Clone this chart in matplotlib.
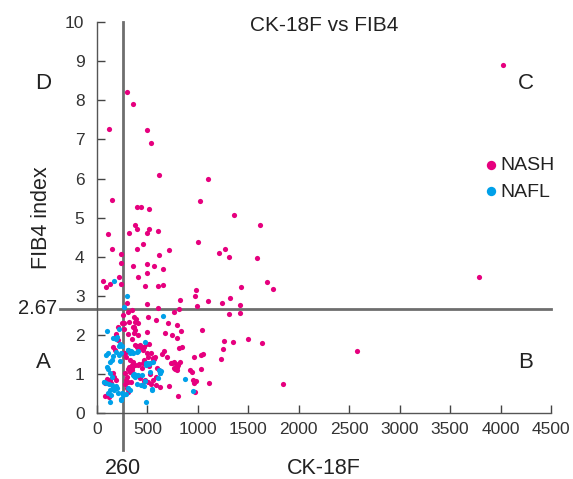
import matplotlib
matplotlib.use("Agg")
import matplotlib.pyplot as plt

plt.rcParams['font.family'] = ['Liberation Sans', 'DejaVu Sans']

# CK-18F (x) and FIB4 index (y)
nash_x = [4020, 300, 354, 116, 496, 535, 612, 1101, 145, 1025, 399, 438, 518, 1359, 1612,
          112, 322, 380, 395, 518, 500, 605, 1004, 145, 399, 457, 710, 1210, 1264, 1304,
          1587, 236, 236, 616, 359, 493, 562, 656, 493, 409, 217, 62, 91, 130, 239,
          478, 601, 652, 986, 1428, 1685, 1743, 3783, 967, 822, 493, 993, 1098, 1239, 1319,
          1420, 601, 293, 808, 1304, 1417, 768, 308, 348, 261, 370, 385, 372, 405, 507,
          580, 315, 703, 790, 272, 264, 1040, 360, 375, 496, 678, 837, 746, 790, 188,
          1496, 1257, 1348, 1638, 2576, 1246, 1228, 1033, 1050, 960, 1029, 920, 946, 1848,
          515, 812, 839, 667, 647, 558, 575, 690, 746, 822, 806, 766, 789, 591, 614,
          525, 954, 977, 964, 1109, 581, 624, 713, 971, 806,
          211, 244, 370, 185, 310, 370, 403, 350, 251, 277, 284, 393, 426, 442, 162,
          178, 360, 376, 416, 310, 343, 327, 442, 492, 515, 129, 139, 310, 337, 426,
          475, 508, 79, 99, 304, 122, 82, 300, 276, 296, 286, 280, 467, 559, 582,
          533, 155, 171, 191, 204, 326, 355, 345, 316, 342, 408, 451, 467, 375, 401,
          421, 451, 467, 484, 500, 533, 510, 553, 566, 737, 763, 780, 793, 773, 796]
nash_y = [8.90, 8.22, 7.91, 7.27, 7.25, 6.90, 6.10, 6.00, 5.45, 5.42, 5.26, 5.28, 5.23, 5.07, 4.81,
          4.59, 4.61, 4.80, 4.71, 4.72, 4.60, 4.66, 4.37, 4.21, 4.21, 4.33, 4.17, 4.09, 4.19, 4.00,
          3.96, 4.07, 3.85, 4.04, 3.76, 3.81, 3.77, 3.68, 3.58, 3.48, 3.48, 3.39, 3.23, 3.30, 3.30,
          3.26, 3.26, 3.27, 3.14, 3.23, 3.35, 3.17, 3.48, 2.99, 2.89, 2.80, 2.75, 2.86, 2.82, 2.94,
          2.78, 2.69, 2.81, 2.67, 2.53, 2.56, 2.59, 2.59, 2.64, 2.50, 2.45, 2.40, 2.33, 2.30, 2.45,
          2.38, 2.33, 2.31, 2.25, 2.32, 2.16, 2.12, 2.20, 2.12, 2.08, 2.06, 2.11, 1.99, 1.93, 1.98,
          1.91, 1.84, 1.82, 1.80, 1.59, 1.64, 1.39, 1.49, 1.52, 1.44, 1.13, 1.11, 1.05, 0.75,
          1.77, 1.68, 1.70, 1.60, 1.52, 1.41, 1.43, 1.45, 1.29, 1.32, 1.24, 1.15, 1.19, 1.15, 1.11,
          1.00, 0.85, 0.83, 0.78, 0.77, 0.72, 0.66, 0.70, 0.55, 0.44,
          2.21, 2.30, 2.21, 2.03, 2.03, 2.06, 2.00, 1.89, 1.53, 1.53, 1.43, 1.70, 1.75, 1.69, 1.69,
          1.62, 1.29, 1.23, 1.26, 1.12, 1.15, 1.06, 1.15, 1.26, 1.21, 0.85, 0.78, 0.81, 0.81, 0.89,
          0.85, 0.81, 0.77, 0.87, 0.55, 0.42, 0.44, 0.64, 1.02, 0.93, 0.86, 0.76, 0.83, 0.85, 0.92,
          0.76, 1.02, 0.93, 0.86, 1.88, 1.36, 1.31, 1.23, 1.19, 1.10, 1.23, 1.29, 1.36, 1.75, 1.71,
          1.68, 1.61, 1.69, 1.78, 1.53, 1.53, 1.44, 1.40, 1.38, 1.29, 1.32, 1.25, 1.19, 1.14, 1.10]

nafl_x = [167, 301, 272, 659, 100, 220, 160, 185, 200, 221, 251, 230, 478, 402, 340,
          355, 86, 112, 162, 185, 304, 327, 125, 145, 230, 99, 106, 129, 152, 73,
          89, 119, 145, 162, 185, 198, 172, 129, 112, 139, 211, 261, 238, 284, 304,
          327, 399, 409, 370, 376, 442, 482, 482, 525, 125, 482, 541, 525, 558, 634,
          624, 608, 480, 872, 548, 954, 220, 237, 309, 342, 395, 500, 516, 66, 243,
          352, 362, 385, 434, 447, 467, 615, 625, 234]
nafl_y = [3.39, 3.00, 2.71, 2.48, 2.10, 2.15, 1.92, 1.90, 1.95, 1.72, 1.72, 1.78, 1.81, 1.59, 1.60,
          1.55, 1.49, 1.53, 1.46, 1.57, 1.62, 1.53, 1.32, 1.35, 1.34, 1.19, 1.12, 1.02, 0.94, 0.81,
          0.77, 0.75, 0.72, 0.68, 0.70, 0.64, 0.60, 0.60, 0.53, 0.47, 0.53, 0.47, 0.36, 0.49, 0.64,
          0.60, 0.75, 0.99, 1.00, 0.94, 0.99, 1.23, 1.29, 1.06, 0.30, 0.28, 0.59, 1.29, 1.30, 1.09,
          1.04, 0.89, 0.82, 0.87, 0.61, 0.58, 1.48, 1.53, 1.61, 1.57, 1.57, 1.29, 1.27, 0.81, 0.51,
          0.97, 0.95, 0.97, 0.72, 0.72, 0.69, 1.10, 1.03, 0.33]

x_ticks = [0, 500, 1000, 1500, 2000, 2500, 3000, 3500, 4000, 4500]
y_ticks = list(range(0, 11))
ck18_cut = 260
fib4_cut = 2.67

nash_col = '#e6007e'
nafl_col = '#00a0e9'
line_col = '#6e6e6e'
txt_col = '#222222'

fig = plt.figure(figsize=(5.73, 4.79), dpi=100)
ax = fig.add_axes([97 / 573, 1 - 413.3 / 479, 454 / 573, 391.3 / 479])

ax.scatter(nash_x, nash_y, s=14, color=nash_col, lw=0, label='NASH', zorder=3)
ax.scatter(nafl_x, nafl_y, s=14, color=nafl_col, lw=0, label='NAFL', zorder=4)

ax.set_xlim(0, 4500)
ax.set_ylim(0, 10)
ax.set_xticks(x_ticks)
ax.set_yticks(y_ticks)
ax.tick_params(direction='in', length=5.5, width=1, color='#444444',
               labelsize=12.5, labelcolor='#333333')
ax.tick_params(axis='y', pad=9)
ax.tick_params(axis='x', pad=6)
for s in ['top', 'right']:
    ax.spines[s].set_visible(False)
for s in ['left', 'bottom']:
    ax.spines[s].set_color('#555555')
    ax.spines[s].set_linewidth(1)

# cut-off lines, running past the axes
ax.axvline(ck18_cut, ymin=-0.094, ymax=1, color=line_col, lw=2, clip_on=False, zorder=2)
ax.axhline(fib4_cut, xmin=-0.082, xmax=1, color=line_col, lw=2, clip_on=False, zorder=2)

ax.text(-0.088, fib4_cut, '2.67', transform=ax.get_yaxis_transform(), ha='right', va='center',
        fontsize=14.5, color=txt_col)
ax.text(ck18_cut, -0.14, '260', transform=ax.get_xaxis_transform(), ha='center', va='center',
        fontsize=15.5, color=txt_col)
ax.text(0.5, -0.14, 'CK-18F', transform=ax.transAxes, ha='center', va='center',
        fontsize=15.5, color=txt_col)
ax.text(-0.123, 0.5, 'FIB4 index', transform=ax.transAxes, ha='center', va='center',
        rotation=90, fontsize=15.5, color=txt_col)
ax.text(0.5, 0.99, 'CK-18F vs FIB4', transform=ax.transAxes, ha='center', va='center',
        fontsize=15, color=txt_col)

# quadrant letters
ax.text(-0.119, 1.29, 'A', transform=ax.get_yaxis_transform(), ha='center', va='center', fontsize=16, color=txt_col)
ax.text(-0.119, 8.44, 'D', transform=ax.get_yaxis_transform(), ha='center', va='center', fontsize=16, color=txt_col)
ax.text(4252, 1.29, 'B', ha='center', va='center', fontsize=16, color=txt_col)
ax.text(4252, 8.44, 'C', ha='center', va='center', fontsize=16, color=txt_col)

leg = ax.legend(loc='center left', bbox_to_anchor=(0.855, 0.60), frameon=False,
                handlelength=0.6, handletextpad=0.2, borderpad=0, borderaxespad=0,
                labelspacing=0.45, markerscale=1.8, fontsize=14)
for t in leg.get_texts():
    t.set_color(txt_col)

plt.savefig('out.png', dpi=100)
